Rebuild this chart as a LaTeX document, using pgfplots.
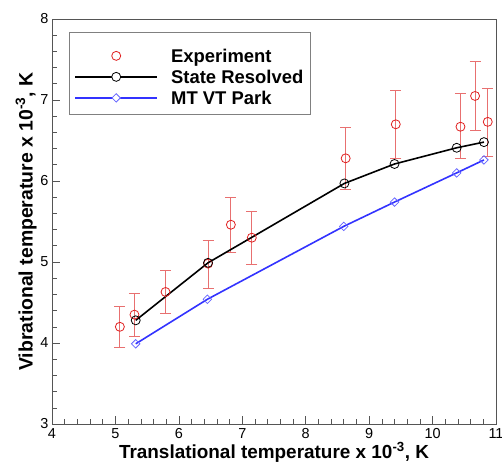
\documentclass[border=0pt]{standalone}
\usepackage{pgfplots}
\pgfplotsset{compat=1.18}
\usepackage{fontspec}
\setmainfont{Liberation Sans}
\usepackage{pgfplotstable}
\definecolor{expred}{HTML}{E02020}
\definecolor{errred}{HTML}{E87070}
\definecolor{mtblue}{HTML}{3333FF}
\definecolor{mtblue2}{HTML}{6666FF}
\definecolor{axgray}{HTML}{555555}
\pgfplotsset{
  explegend/.style={legend image code/.code={\path[draw=none] (0bp,-3.5bp) -- (82bp,-3.5bp); \draw[expred, line width=0.8bp, fill=none] (41bp,-3.5bp) circle (4.5bp);}},
  srlegend/.style={legend image code/.code={\draw[black, line width=1.9bp] (0bp,-3.5bp) -- (82bp,-3.5bp); \draw[black, line width=0.8bp, fill=white] (41bp,-3.5bp) circle (4.5bp);}},
  mtlegend/.style={legend image code/.code={\draw[mtblue, line width=1.9bp] (0bp,-3.5bp) -- (82bp,-3.5bp); \draw[mtblue2, line width=0.8bp, fill=white] (41bp,0.7bp) -- (45.2bp,-3.5bp) -- (41bp,-7.7bp) -- (36.8bp,-3.5bp) -- cycle;}},
}
\pgfplotstableread{
x y ep em
5.07 4.20 0.25 0.25
5.30 4.35 0.26 0.27
5.79 4.63 0.27 0.27
6.46 4.98 0.29 0.31
6.82 5.46 0.34 0.34
7.15 5.30 0.32 0.33
8.63 6.28 0.38 0.38
9.42 6.70 0.42 0.42
10.44 6.67 0.41 0.39
10.67 7.05 0.43 0.43
10.87 6.73 0.41 0.43
}\expdata
\pgfplotstableread{
x y
5.32 4.28
6.46 4.99
8.61 5.97
9.40 6.21
10.38 6.41
10.81 6.48
}\srdata
\pgfplotstableread{
x y
5.32 3.99
6.45 4.54
8.60 5.44
9.40 5.74
10.38 6.10
10.81 6.26
}\mtdata
\begin{document}
\begin{tikzpicture}
\begin{axis}[
  name=ax,
  width=444bp, height=405bp, scale only axis,
  xmin=4, xmax=11, ymin=3, ymax=8,
  xtick={4,5,...,11}, ytick={3,4,...,8},
  minor x tick num=4, minor y tick num=4,
  tick align=inside, xtick pos=bottom, ytick pos=left,
  major tick length=8bp, minor tick length=5bp,
  axis line style={axgray, line width=0.8bp},
  every tick/.style={axgray, line width=0.6bp},
  ticklabel style={font=\fontsize{14.5}{16}\selectfont},
  /pgf/number format/assume math mode=true,
  xticklabel style={yshift=-1bp},
  xlabel={\textbf{Translational temperature x 10\textsuperscript{-3}, K}},
  ylabel={\textbf{Vibrational temperature x 10\textsuperscript{-3}, K}},
  xlabel style={font=\fontsize{19}{21}\selectfont, yshift=3bp},
  ylabel style={font=\fontsize{19.5}{21}\selectfont, yshift=-3bp},
  legend style={at={(0.038,0.968)}, anchor=north west, draw=gray, line width=0.8bp,
    font=\bfseries\fontsize{18.5}{20}\selectfont, inner xsep=5bp, inner ysep=9.5bp,
    row sep=0bp, /tikz/every odd column/.append style={column sep=11bp},
    nodes={inner ysep=0pt, text height=21bp, text depth=0pt}},
  legend cell align=left,
]
\addplot[only marks, mark=o, mark size=4.5bp, mark options={expred, line width=0.8bp},
  explegend,
  error bars/.cd, y dir=both, y explicit,
  error bar style={errred, line width=0.9bp},
  error mark options={rotate=90, mark size=5.5bp, errred, line width=0.9bp}]
  table[x=x, y=y, y error plus=ep, y error minus=em]{\expdata};
\addlegendentry{Experiment}
\addplot[black, line width=1.6bp, mark=o, mark size=4.5bp, mark options={line width=0.8bp}, srlegend]
  table[x=x, y=y]{\srdata};
\addlegendentry{State Resolved}
\addplot[mtblue, line width=1.6bp, mark=square, mark size=3bp, mark options={mtblue2, rotate=45, line width=0.8bp}, mtlegend]
  table[x=x, y=y]{\mtdata};
\addlegendentry{MT VT Park}
\end{axis}
\pgfresetboundingbox
\path[use as bounding box] ([xshift=-52bp, yshift=-40bp]ax.south west) rectangle ([xshift=6bp, yshift=19bp]ax.north east);
\end{tikzpicture}
\end{document}
